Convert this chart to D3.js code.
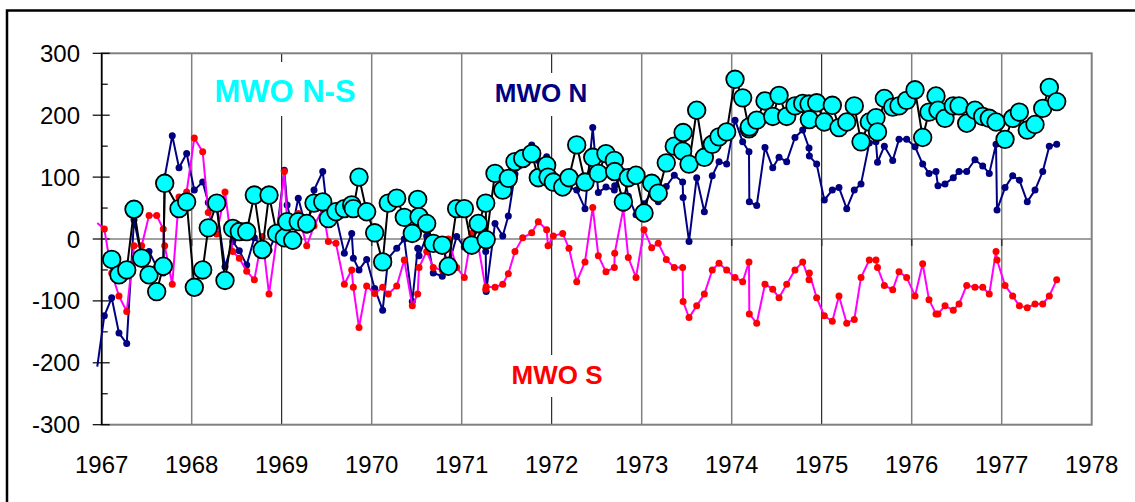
<!DOCTYPE html>
<meta charset="utf-8">
<style>
  body { margin: 0; background: #fff; }
  text { font-family: Arial, "Liberation Sans", sans-serif; }
</style>
<svg width="1135" height="502"></svg>
<script src="https://d3js.org/d3.v7.min.js"></script>
<script>

// observation dates (decimal years) shared by the three series
var dates = [1966.951, 1967.029, 1967.111, 1967.192, 1967.278, 1967.359, 1967.444, 1967.526, 1967.611, 1967.684,
  1967.700, 1967.784, 1967.859, 1967.944, 1968.029, 1968.122, 1968.184, 1968.278, 1968.370, 1968.456,
  1968.529, 1968.611, 1968.696, 1968.784, 1968.859, 1968.944, 1969.029, 1969.060, 1969.122, 1969.184,
  1969.278, 1969.359, 1969.456, 1969.518, 1969.603, 1969.696, 1969.778, 1969.796, 1969.859, 1969.944,
  1970.033, 1970.122, 1970.184, 1970.278, 1970.362, 1970.451, 1970.511, 1970.526, 1970.611, 1970.684,
  1970.784, 1970.851, 1970.944, 1971.029, 1971.111, 1971.184, 1971.267, 1971.272, 1971.370, 1971.456,
  1971.518, 1971.592, 1971.678, 1971.778, 1971.851, 1971.944, 1971.959, 1972.018, 1972.122, 1972.192,
  1972.278, 1972.370, 1972.456, 1972.518, 1972.603, 1972.696, 1972.700, 1972.796, 1972.851, 1972.937,
  1973.026, 1973.111, 1973.184, 1973.273, 1973.362, 1973.455, 1973.460, 1973.526, 1973.611, 1973.696,
  1973.784, 1973.859, 1973.944, 1974.037, 1974.122, 1974.192, 1974.196, 1974.278, 1974.370, 1974.456,
  1974.526, 1974.611, 1974.703, 1974.789, 1974.859, 1974.863, 1974.944, 1975.029, 1975.118, 1975.192,
  1975.278, 1975.362, 1975.437, 1975.529, 1975.603, 1975.620, 1975.696, 1975.789, 1975.859, 1975.944,
  1976.037, 1976.122, 1976.192, 1976.270, 1976.292, 1976.370, 1976.462, 1976.526, 1976.611, 1976.703,
  1976.789, 1976.862, 1976.937, 1976.948, 1977.037, 1977.122, 1977.196, 1977.284, 1977.370, 1977.456,
  1977.529, 1977.611];

var mwoN = [-206, -124, -95, -152, -169, 31, -30, -20, -45, -55,
  100, 167, 115, 138, 79, 92, 59, 50, -45, -4,
  -19, -42, 2, -13, -18, 9, 111, 55, 20, 66,
  14, 79, 109, 30, 37, -23, 9, -31, -50, -33,
  -80, -115, -31, -15, 0, -101, -15, -27, 5, -55,
  -60, -44, 4, -13, -1, 15, -20, -85, 25, 5,
  37, 105, 132, 152, 127, 133, 90, 97, 93, 84,
  79, 49, 180, 75, 84, 79, 86, 109, 69, 39,
  57, 76, 60, 85, 103, 92, 67, -4, 99, 44,
  102, 125, 121, 192, 157, 141, 60, 54, 148, 115,
  132, 125, 164, 176, 147, 134, 121, 63, 79, 83,
  49, 79, 89, 155, 157, 124, 150, 127, 161, 161,
  149, 121, 106, 109, 86, 89, 99, 109, 109, 128,
  118, 106, 153, 47, 83, 102, 95, 60, 79, 109,
  150, 153];

var mwoS = [26, 16, -55, -92, -117, -11, -11, 38, 38, 16,
  -11, -73, 68, 76, 163, 141, 43, 8, 76, -20,
  -31, -52, -66, 4, -89, 0, 109, 28, 22, 41,
  -11, 21, 49, -4, -7, -73, -50, -78, -143, -76,
  -88, -78, -89, -76, -34, -108, -89, -46, -20, -46,
  -50, 0, -46, -62, 9, -10, -81, -77, -78, -73,
  -56, -20, 2, 10, 28, 15, -11, 5, 9, -15,
  -69, -37, 51, -27, -53, -46, -23, 49, -30, -62,
  15, -14, -7, -33, -46, -46, -101, -127, -108, -89,
  -50, -39, -50, -62, -69, -37, -121, -136, -73, -81,
  -95, -73, -50, -37, -66, -55, -95, -124, -133, -92,
  -136, -130, -62, -34, -34, -46, -75, -82, -53, -62,
  -92, -40, -98, -121, -121, -108, -115, -105, -75, -78,
  -78, -89, -20, -34, -75, -92, -108, -111, -105, -105,
  -92, -66];

var mwoNS = [null, null, -33, -58, -50, 48, -31, -58, -85, -44,
  90, null, 49, 60, -78, -50, 18, 58, -67, 17,
  12, 12, 71, -17, 71, 9, 2, 28, -2, 28,
  25, 58, 60, 33, 44, 49, 55, 49, 100, 44,
  10, -37, 58, 66, 35, 9, 64, 36, 25, -7,
  -10, -44, 49, 49, -10, 25, 58, -1, 106, 79,
  98, 125, 130, 138, 99, 119, 100, 92, 84, 99,
  152, 92, 132, 106, 138, 127, 109, 60, 99, 103,
  42, 90, 74, 123, 150, 142, 172, 121, 208, 132,
  153, 165, 173, 258, 228, 178, 181, 192, 223, 198,
  232, 198, 215, 219, 218, 193, 220, 189, 216, 180,
  189, 215, 157, 189, 196, 173, 227, 213, 215, 224,
  241, 164, 205, 231, 208, 195, 215, 215, 187, 208,
  198, 195, 189, null, 161, 195, 205, 176, 185, 211,
  245, 222];

var yearTicks = d3.range(1967, 1979);
var valueTicks = d3.range(-300, 301, 100);
var minorTicks = d3.range(-250, 300, 100);

var svg = d3.select("svg");

var x = d3.scaleLinear().domain([1967, 1978]).range([101.7, 1091.7]);
var y = d3.scaleLinear().domain([-300, 300]).range([424.7, 53.3]);

// outer frame
svg.append("rect")
    .attr("x", 7).attr("y", 10.5)
    .attr("width", 1200).attr("height", 600)
    .attr("fill", "none").attr("stroke", "#000").attr("stroke-width", 2.5);

// vertical grid (some render black, others grey)
svg.append("g").selectAll("line")
  .data(yearTicks.slice(1, -1))
  .enter().append("line")
    .attr("x1", function(d) { return x(d); })
    .attr("x2", function(d) { return x(d); })
    .attr("y1", y(300)).attr("y2", y(-300))
    .attr("stroke", function(d) { return (d - 1969) % 3 == 0 ? "#000" : "#808080"; })
    .attr("stroke-width", function(d) { return (d - 1969) % 3 == 0 ? 1 : 1.5; });

// plot border
svg.append("rect")
    .attr("x", x(1967)).attr("y", y(300))
    .attr("width", x(1978) - x(1967)).attr("height", y(-300) - y(300))
    .attr("fill", "none").attr("stroke", "#808080").attr("stroke-width", 2);

// zero line + year ticks
svg.append("line")
    .attr("x1", x(1967)).attr("x2", x(1978))
    .attr("y1", y(0)).attr("y2", y(0))
    .attr("stroke", "#808080").attr("stroke-width", 1.5);

svg.append("g").selectAll("line")
  .data(yearTicks.slice(1, -1))
  .enter().append("line")
    .attr("x1", function(d) { return x(d); })
    .attr("x2", function(d) { return x(d); })
    .attr("y1", y(0)).attr("y2", y(0) + 7)
    .attr("stroke", "#333").attr("stroke-width", 1.5);

// y axis
svg.append("line")
    .attr("x1", x(1967)).attr("x2", x(1967))
    .attr("y1", y(300)).attr("y2", y(-300))
    .attr("stroke", "#000").attr("stroke-width", 1.5);

svg.append("g").selectAll("line")
  .data(valueTicks)
  .enter().append("line")
    .attr("x1", x(1967) - 9).attr("x2", x(1967) + 8)
    .attr("y1", function(d) { return y(d); })
    .attr("y2", function(d) { return y(d); })
    .attr("stroke", "#000").attr("stroke-width", 1.2);

svg.append("g").selectAll("line")
  .data(minorTicks)
  .enter().append("line")
    .attr("x1", x(1967)).attr("x2", x(1967) + 6)
    .attr("y1", function(d) { return y(d); })
    .attr("y2", function(d) { return y(d); })
    .attr("stroke", "#000").attr("stroke-width", 1.2);

svg.append("g").selectAll("text")
  .data(valueTicks)
  .enter().append("text")
    .attr("x", 80)
    .attr("y", function(d) { return y(d) + 8.5; })
    .attr("text-anchor", "end")
    .attr("font-size", 24)
    .text(function(d) { return d; });

svg.append("g").selectAll("text")
  .data(yearTicks)
  .enter().append("text")
    .attr("x", function(d) { return x(d); })
    .attr("y", 473)
    .attr("text-anchor", "middle")
    .attr("font-size", 24)
    .text(function(d) { return d; });

// series labels on white boxes
var labels = [
  {t: "MWO N-S", x: 285, y: 101.5, size: 31, c: "#00FFFF", box: [202, 62, 168, 54]},
  {t: "MWO N", x: 541, y: 102, size: 26, c: "#000080", box: [488, 73, 106, 43]},
  {t: "MWO S", x: 557, y: 384, size: 26, c: "#FF0000", box: [504, 355, 106, 42]}
];
labels.forEach(function(l) {
  svg.append("rect")
      .attr("x", l.box[0]).attr("y", l.box[1])
      .attr("width", l.box[2]).attr("height", l.box[3])
      .attr("fill", "#fff");
  svg.append("text")
      .attr("x", l.x).attr("y", l.y)
      .attr("text-anchor", "middle")
      .attr("font-size", l.size)
      .attr("font-weight", "bold")
      .attr("fill", l.c)
      .text(l.t);
});

function series(values, lineColor, stroke) {
  var pts = dates.map(function(d, i) { return [d, values[i]]; })
      .filter(function(p) { return p[1] != null; });
  var line = d3.line()
      .x(function(p) { return x(p[0]); })
      .y(function(p) { return y(p[1]); });
  svg.append("path")
      .datum(pts)
      .attr("d", line)
      .attr("fill", "none")
      .attr("stroke", lineColor)
      .attr("stroke-width", stroke)
      .attr("stroke-linejoin", "round");
  return pts.filter(function(p) { return p[0] >= 1967; });
}

var nPts = series(mwoN, "#000080", 2);
svg.append("g").selectAll("circle")
  .data(nPts)
  .enter().append("circle")
    .attr("cx", function(p) { return x(p[0]); })
    .attr("cy", function(p) { return y(p[1]); })
    .attr("r", 3.5)
    .attr("fill", "#000080");

var sPts = series(mwoS, "#FF00FF", 2);
svg.append("g").selectAll("circle")
  .data(sPts)
  .enter().append("circle")
    .attr("cx", function(p) { return x(p[0]); })
    .attr("cy", function(p) { return y(p[1]); })
    .attr("r", 3.5)
    .attr("fill", "#FF0000");

var nsPts = series(mwoNS, "#000", 2);
svg.append("g").selectAll("circle")
  .data(nsPts)
  .enter().append("circle")
    .attr("cx", function(p) { return x(p[0]); })
    .attr("cy", function(p) { return y(p[1]); })
    .attr("r", 8.8)
    .attr("fill", "#00FFFF")
    .attr("stroke", "#000")
    .attr("stroke-width", 1.8);

</script>
